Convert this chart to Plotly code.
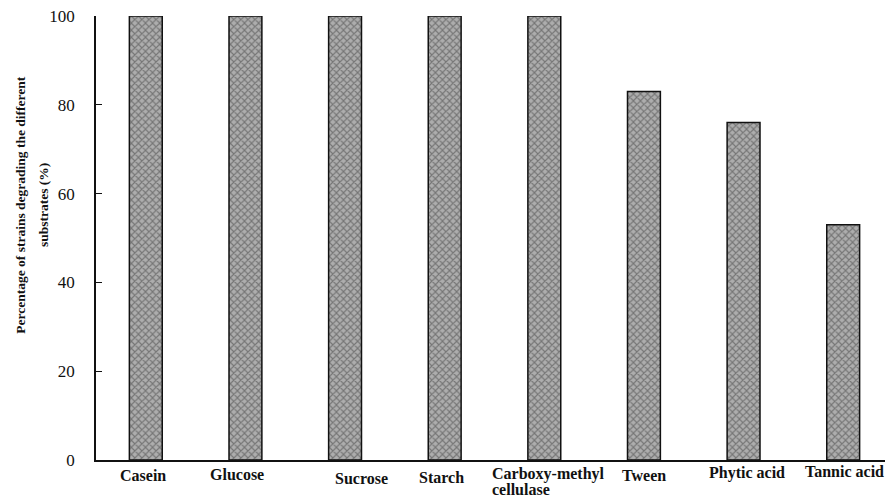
import plotly.graph_objects as go

categories = ["Casein", "Glucose", "Sucrose", "Starch", "Carboxy-methyl<br>cellulase",
              "Tween", "Phytic acid", "Tannic acid"]
values = [100, 100, 100, 100, 100, 83, 76, 53]
y_ticks = [0, 20, 40, 60, 80, 100]
y_title_lines = ["Percentage of strains degrading the different", "substrates (%)"]

# label placement tweaks (pixels) to mimic the original layout
label_xshift = [-3, -8, 16, -3, -54, 0, 3, 1]
label_yshift = [-15, -14, -18, -17, -14, -15, -13, -11]

fig = go.Figure()
fig.add_trace(go.Bar(
    x=list(range(len(categories))),
    y=values,
    width=0.33,
    marker=dict(
        color="#999999",
        line=dict(color="#111111", width=1.5),
        pattern=dict(shape="x", fgcolor="#3e3e3e", bgcolor="#adadad", size=5, solidity=0.4, fillmode="overlay"),
    ),
    hoverinfo="x+y",
))

label_font = dict(family="Liberation Serif", size=16, color="#111111")
for i, (c, dx, dy) in enumerate(zip(categories, label_xshift, label_yshift)):
    lines = c.split("<br>")
    multi = len(lines) > 1
    for k, ln in enumerate(lines):
        fig.add_annotation(
            x=i, y=0, xref="x", yref="y",
            text="<b>" + ln + "</b>",
            showarrow=False,
            xanchor="left" if multi else "center",
            yanchor="middle",
            xshift=dx,
            yshift=dy - 15 * k,
            font=label_font,
        )

title_x = [-0.094, -0.066]
for tx, ln in zip(title_x, y_title_lines):
    fig.add_annotation(
        x=tx, y=0.575, xref="paper", yref="paper",
        text="<b>" + ln + "</b>",
        textangle=-90, showarrow=False,
        xanchor="center", yanchor="middle",
        font=dict(family="Liberation Serif", size=13.5, color="#111111"),
    )

# page body has an 8px default margin, so the figure is sized to fit the window
fig.update_layout(
    width=885, height=491,
    margin=dict(l=88, r=0, t=8, b=39),
    plot_bgcolor="white", paper_bgcolor="white",
    showlegend=False,
    xaxis=dict(
        range=[-0.5, 7.5],
        showticklabels=False, ticks="",
        showline=True, linecolor="#111111", linewidth=1.5,
        showgrid=False, zeroline=False, fixedrange=True,
        automargin=False,
    ),
    yaxis=dict(
        range=[0, 100],
        tickvals=y_ticks,
        ticks="inside", ticklen=6, tickcolor="#111111", tickwidth=1.2,
        showline=True, linecolor="#111111", linewidth=1.5,
        showgrid=False, zeroline=False,
        tickfont=dict(family="Liberation Serif", size=17, color="#111111"),
        ticklabelstandoff=16,
        ticklabeloverflow="allow",
        fixedrange=True,
        automargin=False,
    ),
)

fig.write_html("out.html")
